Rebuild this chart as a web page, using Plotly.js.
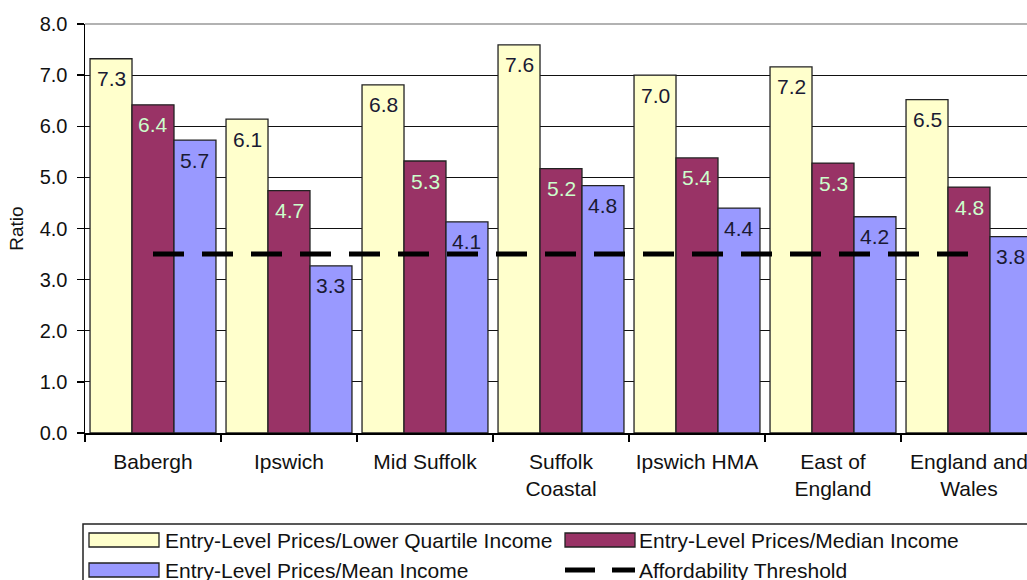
<!DOCTYPE html>
<html>
<head>
<meta charset="utf-8">
<script src="https://cdn.plot.ly/plotly-3.0.1.min.js"></script>
<style>
  html, body { margin: 0; padding: 0; overflow: hidden; background: #fff; }
  #chart { width: 1040px; height: 580px; }
</style>
</head>
<body>
<div id="chart"></div>
<script>
const categories = ["Babergh", "Ipswich", "Mid Suffolk", "Suffolk<br>Coastal", "Ipswich HMA", "East of<br>England", "England and<br>Wales"];
const lowerQuartile = [7.32, 6.14, 6.81, 7.59, 7.0, 7.16, 6.52];
const median = [6.42, 4.74, 5.32, 5.17, 5.38, 5.28, 4.81];
const mean = [5.73, 3.27, 4.13, 4.84, 4.40, 4.23, 3.84];
const threshold = [3.5, 3.5, 3.5, 3.5, 3.5, 3.5, 3.5];
const seriesNames = ["Entry-Level Prices/Lower Quartile Income", "Entry-Level Prices/Median Income", "Entry-Level Prices/Mean Income", "Affordability Threshold"];
const colors = ["#FFFFCC", "#993366", "#9999FF"];
const labelColors = ["#1a1a33", "#CCFFCC", "#1a1a33"];

const FONT = "Liberation Sans, Arial, sans-serif";
const FS = 21;
const seriesValues = [lowerQuartile, median, mean];

function barTrace(vals, i) {
  return {
    type: "bar", x: categories, y: vals, name: seriesNames[i],
    marker: { color: colors[i], line: { color: "#222", width: 1.3 } },
    hoverinfo: "skip"
  };
}

const traces = [
  barTrace(lowerQuartile, 0),
  barTrace(median, 1),
  barTrace(mean, 2),
  {
    type: "scatter", mode: "lines", x: categories, y: threshold, name: seriesNames[3],
    line: { color: "#000", width: 5, dash: "31px,18px" }, hoverinfo: "skip"
  }
];

// pixel -> paper helpers (plot area: x 85..1037, y 24..433)
const L = 85, T = 24, W = 952, H = 409;
const px = v => (v - L) / W;
const py = v => (T + H - v) / H;
const BAR_PX = (W / categories.length) * (1 - 0.074) / 3;

const shapes = [
  { type: "line", xref: "paper", yref: "paper", x0: 0, x1: 1, y0: 1, y1: 1, line: { color: "#999", width: 1.5 }, layer: "above" },
  { type: "rect", xref: "paper", yref: "paper", x0: px(83), x1: px(1060), y0: py(524), y1: py(610), line: { color: "#222", width: 1.5 }, fillcolor: "rgba(0,0,0,0)" },
  { type: "rect", xref: "paper", yref: "paper", x0: px(89), x1: px(159), y0: py(533), y1: py(547), line: { color: "#222", width: 1.3 }, fillcolor: colors[0] },
  { type: "rect", xref: "paper", yref: "paper", x0: px(565), x1: px(635), y0: py(533), y1: py(547), line: { color: "#222", width: 1.3 }, fillcolor: colors[1] },
  { type: "rect", xref: "paper", yref: "paper", x0: px(89), x1: px(159), y0: py(563), y1: py(577), line: { color: "#222", width: 1.3 }, fillcolor: colors[2] },
  { type: "line", xref: "paper", yref: "paper", x0: px(565), x1: px(595), y0: py(570), y1: py(570), line: { color: "#000", width: 5 } },
  { type: "line", xref: "paper", yref: "paper", x0: px(612), x1: px(635), y0: py(570), y1: py(570), line: { color: "#000", width: 5 } }
];

function legText(t, x, y) {
  return { xref: "paper", yref: "paper", x: px(x), y: py(y), xanchor: "left", yanchor: "middle",
    text: t, showarrow: false, font: { family: FONT, size: FS, color: "#111" } };
}
const annotations = [
  legText(seriesNames[0], 163, 540),
  legText(seriesNames[1], 637, 540),
  legText(seriesNames[2], 163, 570),
  legText(seriesNames[3], 637, 570)
];

// value labels inside the top of each bar
seriesValues.forEach((vals, i) => {
  vals.forEach((v, j) => {
    annotations.push({
      xref: "x", yref: "y", x: categories[j], y: v,
      xshift: (i - 1) * BAR_PX, yshift: -20,
      xanchor: "center", yanchor: "middle",
      text: v.toFixed(1), showarrow: false,
      font: { family: FONT, size: FS, color: labelColors[i] }
    });
  });
});

const layout = {
  width: 1040, height: 580,
  margin: { l: L, t: T, r: 1040 - L - W, b: 580 - T - H, pad: 0 },
  paper_bgcolor: "#fff", plot_bgcolor: "#fff",
  barmode: "group", bargap: 0.074, bargroupgap: 0,
  showlegend: false,
  font: { family: FONT, size: FS, color: "#111" },
  xaxis: {
    type: "category", range: [-0.5, 6.5], tickson: "boundaries",
    ticks: "outside", ticklen: 7, tickcolor: "#000", tickwidth: 1.3,
    showline: true, linecolor: "#000", linewidth: 1.5,
    showgrid: false, tickfont: { family: FONT, size: FS, color: "#111" },
    ticklabelstandoff: 9, fixedrange: true
  },
  yaxis: {
    range: [0, 8], dtick: 1, tick0: 0, tickformat: ".1f",
    ticks: "outside", ticklen: 7, tickcolor: "#000", tickwidth: 1.3,
    showline: true, linecolor: "#000", linewidth: 1.5,
    showgrid: true, gridcolor: "#111", gridwidth: 1, zeroline: false,
    tickfont: { family: FONT, size: 20, color: "#111" },
    ticklabelstandoff: 5,
    title: { text: "Ratio", font: { family: FONT, size: 19, color: "#111" }, standoff: 11 },
    fixedrange: true
  },
  shapes: shapes,
  annotations: annotations
};

Plotly.newPlot("chart", traces, layout, { displayModeBar: false, staticPlot: true });
</script>
</body>
</html>
